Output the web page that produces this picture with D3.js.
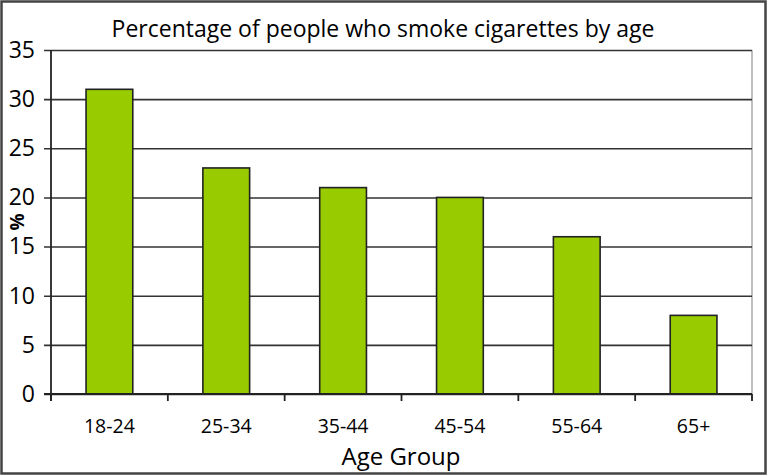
<!DOCTYPE html>
<html><head><meta charset="utf-8">
<script src="https://cdn.jsdelivr.net/npm/d3@7"></script>
<style>body{margin:0;background:#fff;} text{font-family:"Open Sans","Noto Sans",sans-serif;fill:#000;}</style>
</head><body>
<svg id="c" width="768" height="476"></svg>
<script>
const categories = ["18-24","25-34","35-44","45-54","55-64","65+"];
const values = [31, 23, 21, 20, 16, 8];
const yTicks = [0,5,10,15,20,25,30,35];
const title = "Percentage of people who smoke cigarettes by age";
const xTitle = "Age Group";
const yTitle = "%";

const svg = d3.select("#c");
const L = 51, R = 752, T = 50, B = 394;

svg.append("rect").attr("x",1.5).attr("y",1.5).attr("width",764).attr("height",472)
  .attr("fill","#fff").attr("stroke","#444").attr("stroke-width",2.5);

const x = d3.scaleBand().domain(categories).range([L,R]).paddingInner(0.6).paddingOuter(0.3);
const y = d3.scaleLinear().domain([0,35]).range([B,T]);

svg.append("line").attr("x1",R).attr("x2",R).attr("y1",T).attr("y2",B+6)
  .attr("stroke","#aaa").attr("stroke-width",1.5);

const yAxis = d3.axisLeft(y).tickValues(yTicks).tickSize(-(R-L)).tickSizeOuter(0);
const gy = svg.append("g").attr("transform",`translate(${L},0)`).call(yAxis);
gy.select(".domain").remove();
gy.selectAll(".tick line").attr("stroke","#333").attr("stroke-width",1.6).attr("x1",-7);
gy.selectAll(".tick text").attr("font-size",23).attr("font-weight",500).attr("x",-16)
  .attr("font-family","Open Sans, Noto Sans, sans-serif").attr("fill","#000");

svg.append("g").selectAll("rect").data(values).join("rect")
  .attr("x",(d,i)=>x(categories[i]))
  .attr("y",d=>y(d))
  .attr("width",x.bandwidth())
  .attr("height",d=>y(0)-y(d))
  .attr("fill","#99cc00").attr("stroke","#222").attr("stroke-width",1.6);

svg.append("line").attr("x1",L).attr("x2",L).attr("y1",T).attr("y2",B+7)
  .attr("stroke","#222").attr("stroke-width",1.8);
svg.append("line").attr("x1",L-7).attr("x2",R).attr("y1",B).attr("y2",B)
  .attr("stroke","#222").attr("stroke-width",1.8);

const bounds = d3.range(categories.length+1).map(i => L + i*(R-L)/categories.length);
svg.append("g").selectAll("line").data(bounds).join("line")
  .attr("x1",d=>d).attr("x2",d=>d).attr("y1",B).attr("y2",B+7)
  .attr("stroke","#222").attr("stroke-width",1.8);

svg.append("g").selectAll("text").data(categories).join("text")
  .attr("x",d=>x(d)+x.bandwidth()/2).attr("y",433)
  .attr("text-anchor","middle").attr("font-size",19.5).text(d=>d);

svg.append("text").attr("x",401).attr("y",465).attr("text-anchor","middle")
  .attr("font-size",24).attr("font-weight",500).text(xTitle);

svg.append("text").attr("x",383).attr("y",37).attr("text-anchor","middle")
  .attr("font-size",23).attr("font-weight",500).text(title);

svg.append("text").attr("transform","translate(24,222) rotate(-90)").attr("text-anchor","middle")
  .attr("font-size",19).attr("font-weight","bold").text(yTitle);
</script>
</body></html>
